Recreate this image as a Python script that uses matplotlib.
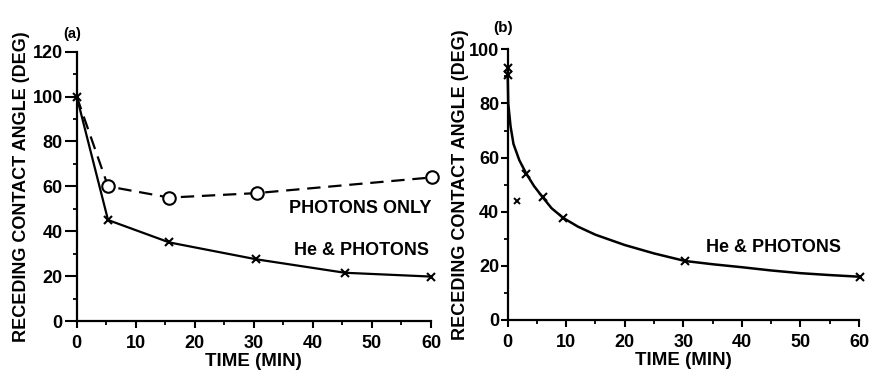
import numpy as np
import matplotlib.pyplot as plt
from matplotlib.ticker import MultipleLocator

plt.rcParams['font.family'] = ['Liberation Sans', 'DejaVu Sans']
plt.rcParams['font.weight'] = 'bold'

# panel (a) data
a_he_t = [0, 5.3, 15.7, 30.4, 45.4, 60]
a_he_y = [100, 45, 35, 27.5, 21.5, 19.8]
a_ph_t = [0, 5.3, 15.7, 30.5, 60.2]
a_ph_y = [100, 60, 55, 57, 64]

# panel (b) data
b_pts_t = [0, 0, 3.2, 6.0, 9.5, 30.3, 60.2]
b_pts_y = [93, 90.5, 54, 45.3, 37.7, 21.8, 16]
b_out_t = [1.65]
b_out_y = [43.8]
# smooth fitted curve
b_curve_t = [0, 0.1, 0.5, 1, 2, 3.2, 4.5, 6, 7.5, 9.5, 12, 15, 20, 25, 30.3, 35, 40, 45, 50, 55, 60]
b_curve_y = [92, 80, 71.5, 65, 59, 54, 49.5, 45.3, 41.3, 37.7, 34.5, 31.5, 27.7, 24.6, 21.8, 20.6, 19.5, 18.3, 17.3, 16.6, 16]

fig = plt.figure(figsize=(8.73, 3.74), dpi=100)
ax1 = fig.add_axes([0.0879, 0.1417, 0.4058, 0.7200])
ax2 = fig.add_axes([0.5815, 0.1444, 0.4024, 0.7237])


def style_axis(ax, ymax, ystep, ytick_len, ylabpad):
    ax.set_xlim(0, 60)
    ax.set_ylim(0, ymax)
    ax.spines['top'].set_visible(False)
    ax.spines['right'].set_visible(False)
    ax.spines['left'].set_linewidth(1.6)
    ax.spines['bottom'].set_linewidth(1.6)
    ax.xaxis.set_major_locator(MultipleLocator(10))
    ax.xaxis.set_minor_locator(MultipleLocator(5))
    ax.yaxis.set_major_locator(MultipleLocator(ystep))
    ax.yaxis.set_minor_locator(MultipleLocator(ystep / 2))
    ax.tick_params(which='major', direction='out', width=1.5, labelsize=13)
    ax.tick_params(axis='x', which='major', length=5, pad=5)
    ax.tick_params(axis='y', which='major', length=ytick_len, pad=1)
    ax.tick_params(which='minor', direction='out', length=3, width=1.3)
    for lab in ax.get_xticklabels() + ax.get_yticklabels():
        lab.set_fontweight('bold')
    ax.set_xlabel('TIME (MIN)', fontsize=13.5, fontweight='bold', labelpad=1)
    ax.set_ylabel('RECEDING CONTACT ANGLE (DEG)', fontsize=13, fontweight='bold', labelpad=ylabpad)


# (a)
ax1.plot(a_ph_t, a_ph_y, color='black', lw=1.6, ls=(0, (6, 3.5)), marker='o', ms=9,
         mfc='white', mec='black', mew=1.5, markevery=[1, 2, 3, 4], clip_on=False, zorder=3)
ax1.plot(a_he_t, a_he_y, color='black', lw=1.6, marker='x', ms=5.5, mew=1.5, clip_on=False, zorder=4)
style_axis(ax1, 120, 20, 9, 2)
ax1.text(60, 50, 'PHOTONS ONLY', ha='right', va='center', fontsize=13, fontweight='bold')
ax1.text(59.6, 31.3, 'He & PHOTONS', ha='right', va='center', fontsize=13, fontweight='bold')
ax1.text(-2.3, 128, '(a)', ha='left', va='center', fontsize=10.5, fontweight='bold', clip_on=False)

# (b)
ax2.plot(b_curve_t, b_curve_y, color='black', lw=1.8, clip_on=False, zorder=3)
ax2.plot(b_pts_t, b_pts_y, ls='none', color='black', marker='x', ms=5.5, mew=1.5, clip_on=False, zorder=4)
ax2.plot(b_out_t, b_out_y, ls='none', color='black', marker='x', ms=4.5, mew=1.4, clip_on=False, zorder=4)
style_axis(ax2, 100, 20, 5, 0)
ax2.text(57, 26.6, 'He & PHOTONS', ha='right', va='center', fontsize=13, fontweight='bold')
ax2.text(-2.5, 108, '(b)', ha='left', va='center', fontsize=11, fontweight='bold', clip_on=False)

fig.savefig('out.png', dpi=100)
